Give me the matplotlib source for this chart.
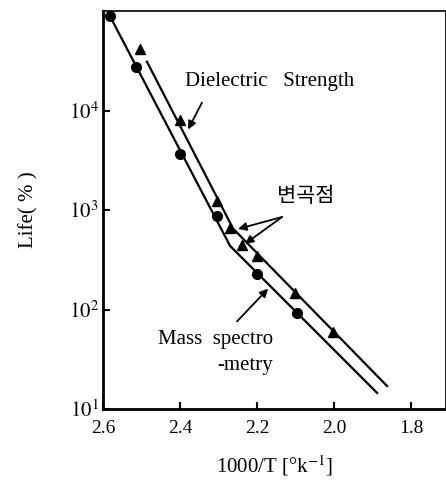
import matplotlib
matplotlib.use('Agg')
import matplotlib.pyplot as plt

plt.rcParams['font.family'] = ['Liberation Serif', 'Noto Sans CJK KR', 'DejaVu Sans']
plt.rcParams['mathtext.fontset'] = 'stix'

# measured points
mass_x = [2.582, 2.514, 2.40, 2.304, 2.20, 2.096]
mass_y = [89000, 27500, 3700, 870, 230, 93]
diel_x = [2.504, 2.40, 2.304, 2.270, 2.239, 2.20, 2.10, 2.003]
diel_y = [41700, 8100, 1230, 660, 440, 347, 145, 60]

# fitted lines (two slopes, break at inflection point)
mass_fit_x = [2.582, 2.270, 1.888]
mass_fit_y = [89000, 436, 14.5]
diel_fit_x = [2.486, 2.262, 1.862]
diel_fit_y = [31000, 650, 17]

x_ticks = [2.6, 2.4, 2.2, 2.0, 1.8]
x_labels = ['2.6', '2.4', '2.2', '2.0', '1.8']
y_ticks = [10, 100, 1000, 10000]
y_labels = ['$10^1$', '$10^2$', '$10^3$', '$10^4$']

fig = plt.figure(figsize=(4.46, 4.82), dpi=100)
ax = fig.add_axes([0.231, 0.1515, 0.769, 0.8255])

ax.plot(mass_fit_x, mass_fit_y, color='black', lw=1.6)
ax.plot(diel_fit_x, diel_fit_y, color='black', lw=1.6)
ax.plot(mass_x, mass_y, 'o', color='black', ms=7)
ax.plot(diel_x, diel_y, '^', color='black', ms=6.5)

ax.set_yscale('log')
ax.set_xlim(2.6, 1.709)
ax.set_ylim(10, 1e5)
ax.set_xticks(x_ticks)
ax.set_xticklabels(x_labels, fontsize=14)
ax.set_yticks(y_ticks)
ax.set_yticklabels(y_labels, fontsize=15)
ax.minorticks_off()
ax.tick_params(direction='in', length=5, width=1.5)
ax.tick_params(axis='x', pad=8)
ax.tick_params(axis='y', pad=3)

for s in ['left', 'bottom']:
    ax.spines[s].set_linewidth(2)
for s in ['top', 'right']:
    ax.spines[s].set_linewidth(1.2)

ax.set_ylabel('Life( % )', fontsize=15, labelpad=22)
ax.set_xlabel('1000/T [°k$^{-1}$]', fontsize=15, labelpad=12)

arr = dict(arrowstyle='-|>', color='black', lw=1.3, mutation_scale=12, shrinkA=0, shrinkB=0)

ax.text(2.387, 10**4.29, 'Dielectric   Strength', fontsize=15, ha='left', va='center')
ax.annotate('', xy=(2.379, 10**3.81), xytext=(2.343, 10**4.08), arrowprops=arr)

ax.text(2.148, 10**3.13, '변곡점', fontsize=15, ha='left', va='center')
ax.annotate('', xy=(2.249, 10**2.81), xytext=(2.135, 10**2.93), arrowprops=arr)
ax.annotate('', xy=(2.231, 10**2.66), xytext=(2.135, 10**2.93), arrowprops=arr)

ax.text(2.158, 10**1.70, 'Mass  spectro', fontsize=15, ha='right', va='center')
ax.text(2.158, 10**1.44, '-metry', fontsize=15, ha='right', va='center')
ax.annotate('', xy=(2.171, 10**2.21), xytext=(2.252, 10**1.88), arrowprops=arr)

fig.savefig('out.png', dpi=100)
